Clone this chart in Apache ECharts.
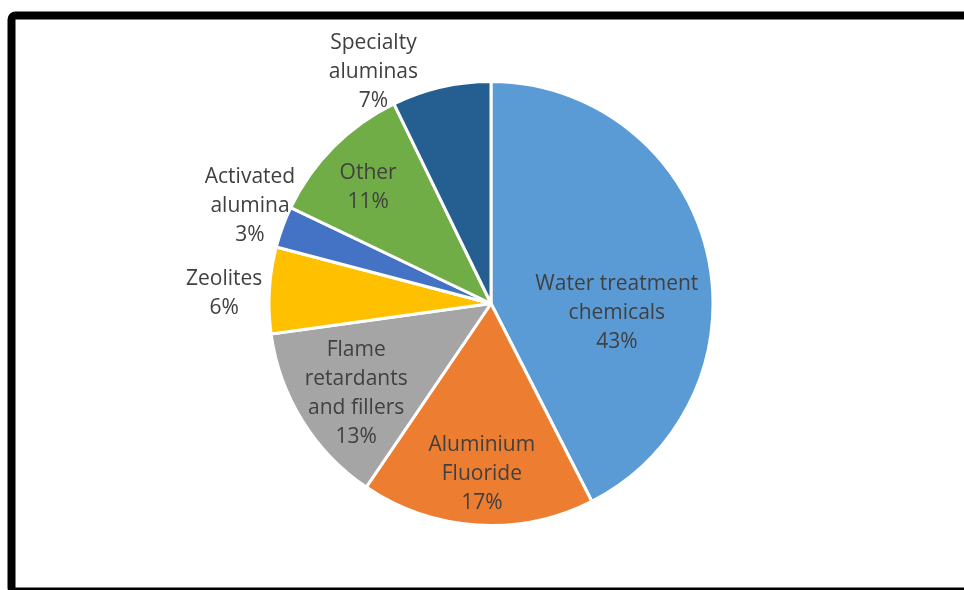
<!DOCTYPE html>
<html>
<head>
<meta charset="utf-8">
<script src="https://cdn.jsdelivr.net/npm/echarts@6/dist/echarts.min.js"></script>
<style>html,body{margin:0;padding:0;background:#fff}#c{width:964px;height:590px}</style>
</head>
<body>
<div id="c"></div>
<script>
const categories = ['Water treatment\nchemicals', 'Aluminium\nFluoride', 'Flame\nretardants\nand fillers', 'Zeolites', 'Activated\nalumina', 'Other', 'Specialty\naluminas'];
const values = [42.5, 17.0, 13.3, 6.3, 3.0, 10.7, 7.2];
const colors = ['#5B9BD5', '#ED7D31', '#A5A5A5', '#FFC000', '#4472C4', '#70AD47', '#255E91'];
const labelShift = [[15, 36], [-2, 57], [-38, 30], [-153, -3], [-134, -58], [-42, -36], [-92, -120]];

const chart = echarts.init(document.getElementById('c'), null, {renderer: 'canvas'});
chart.setOption({
  animation: false,
  backgroundColor: '#ffffff',
  graphic: [{
    type: 'rect',
    shape: {x: 11.5, y: 15.5, width: 1000, height: 576, r: 4},
    style: {fill: 'none', stroke: '#000', lineWidth: 8},
    z: 10
  }],
  series: [{
    type: 'pie',
    center: [491, 303.5],
    radius: [0, 222],
    startAngle: 90,
    clockwise: true,
    itemStyle: {borderColor: '#fff', borderWidth: 3},
    label: {
      show: true,
      position: 'inside',
      formatter: p => p.name + '\n' + Math.round(p.value) + '%',
      color: '#404040',
      fontFamily: 'Open Sans',
      fontSize: 21,
      lineHeight: 29,
      align: 'center'
    },
    labelLine: {show: false},
    labelLayout: p => ({dx: labelShift[p.dataIndex][0], dy: labelShift[p.dataIndex][1]}),
    data: categories.map((c, i) => ({name: c, value: values[i], itemStyle: {color: colors[i]}}))
  }]
});
</script>
</body>
</html>
